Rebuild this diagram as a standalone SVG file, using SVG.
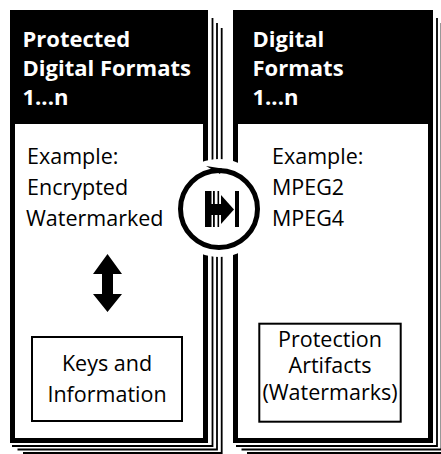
<svg xmlns="http://www.w3.org/2000/svg" width="441" height="454" viewBox="0 0 441 454">
<style>
.frame{fill:#fff;stroke:#000;stroke-width:5}
.hdr{fill:#000}
.stack{fill:none;stroke:#000;stroke-width:1.8}
.ht{font-family:"Open Sans","Liberation Sans",sans-serif;font-weight:bold;font-size:22px;fill:#fff}
.bt{font-family:"Open Sans","Liberation Sans",sans-serif;font-size:21.5px;fill:#000}
.box{fill:#fff;stroke:#000;stroke-width:2}
</style>
<rect width="441" height="454" fill="#fff"/>
<g id="left-panel">
  <path class="stack" d="M12 446H212.5V18"/>
  <path class="stack" d="M17.5 449.5H217V23"/>
  <path class="stack" d="M23 453H221.7V28"/>
  <rect class="frame" x="12.5" y="12.5" width="193" height="428"/>
  <rect class="hdr" x="10" y="10" width="198" height="114"/>
  <text class="ht" x="22.5" y="46.5">Protected</text>
  <text class="ht" x="22.5" y="75.5">Digital Formats</text>
  <text class="ht" x="22.5" y="105">1...n</text>
  <text class="bt" x="27" y="164">Example:</text>
  <text class="bt" x="27" y="195">Encrypted</text>
  <text class="bt" x="26" y="226">Watermarked</text>
</g>
<g id="keys-box">
  <rect class="box" x="32" y="337" width="150" height="84"/>
  <text class="bt" x="107" y="370.5" text-anchor="middle">Keys and</text>
  <text class="bt" x="107" y="401.5" text-anchor="middle">Information</text>
</g>
<g id="right-panel">
  <path class="stack" d="M236 446H437V18"/>
  <path class="stack" d="M241.5 449.5H441.5V23"/>
  <path class="stack" d="M247 453H446V28"/>
  <rect class="frame" x="235.5" y="12.5" width="195" height="428"/>
  <rect class="hdr" x="233" y="10" width="200" height="114"/>
  <text class="ht" x="252.5" y="46.5">Digital</text>
  <text class="ht" x="252.5" y="75.5">Formats</text>
  <text class="ht" x="252.5" y="105">1...n</text>
  <text class="bt" x="272" y="164">Example:</text>
  <text class="bt" x="272" y="195">MPEG2</text>
  <text class="bt" x="272" y="226">MPEG4</text>
</g>
<g id="artifacts-box">
  <rect class="box" x="259.3" y="323.7" width="141.4" height="98"/>
  <text class="bt" x="330" y="346.5" text-anchor="middle">Protection</text>
  <text class="bt" x="330" y="373" text-anchor="middle">Artifacts</text>
  <text class="bt" x="330" y="399.5" text-anchor="middle">(Watermarks)</text>
</g>
<g id="connectors">
  <polygon id="double-arrow" points="107.5,254 122,274 113,274 113,294 122,294 107.5,312 93,294 102,294 102,274 93,274" fill="#000"/>
</g>
<g id="transfer-icon">
  <circle cx="219" cy="208" r="49" fill="#fff"/>
  <rect x="205" y="191" width="6.5" height="36" fill="#000"/>
  <rect x="213" y="191" width="1.8" height="36" fill="#000"/>
  <rect x="217.5" y="191" width="1.6" height="36" fill="#000"/>
  <rect x="235" y="191" width="4" height="36" fill="#000"/>
  <rect x="211" y="204" width="13" height="11" fill="#000"/>
  <polygon points="221,195 234,209.5 221,224" fill="#000"/>
  <circle cx="219" cy="209" r="38.5" fill="none" stroke="#000" stroke-width="5"/>
  <polygon points="206,166 222,168.5 220,174" fill="#000"/>
</g>
</svg>
